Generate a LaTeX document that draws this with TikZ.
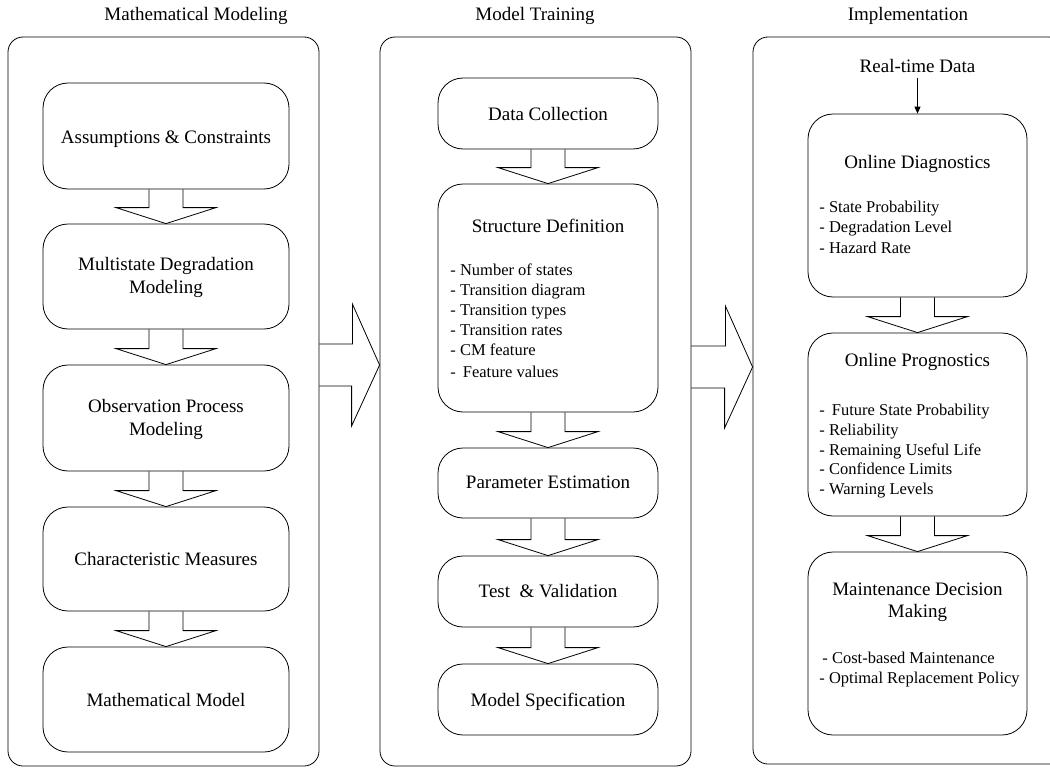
\documentclass[tikz,border=0pt]{standalone}
\usepackage{fontspec}
\setmainfont{Liberation Serif}
\usetikzlibrary{arrows.meta,calc}
\newcommand\blkarrow[2]{%
  \draw[blk] ($(#1.south)+(-17,0)$) -- ($(#2.north)+(-17,-16)$) -- ($(#2.north)+(-50,-16)$)
     -- (#2.north) -- ($(#2.north)+(50,-16)$) -- ($(#2.north)+(17,-16)$) -- ($(#1.south)+(17,0)$);}
\begin{document}
\begin{tikzpicture}[x=1pt,y=-1pt, line width=0.8pt,
  frame/.style={draw, rounded corners=15pt, inner sep=0pt},
  box/.style={draw, rounded corners=25pt, inner sep=0pt},
  ttl/.style={font=\fontsize{19}{23}\selectfont, anchor=base, inner sep=0pt},
  itm/.style={font=\fontsize{16.5}{20}\selectfont, anchor=base west, inner sep=0pt},
  blk/.style={draw, line join=miter}]

\useasboundingbox (0,0) rectangle (1050,768);
\clip (0,0) rectangle (1050,768);

% headers
\node[ttl] (h1) at (196,21) {Mathematical Modeling};
\node[ttl] (h2) at (535,21) {Model Training};
\node[ttl] (h3) at (908,21) {Implementation};

% frames
\node[frame, minimum width=311pt, minimum height=729pt] (f1) at (163.5,401.5) {};
\node[frame, minimum width=311pt, minimum height=729pt] (f2) at (535.5,401.5) {};
\node[frame, minimum width=311pt, minimum height=727pt] (f3) at (908.5,400.5) {};

% column 1
\node[box, minimum width=246pt, minimum height=106pt] (a1) at (166,136) {};
\node[box, minimum width=246pt, minimum height=105pt] (a2) at (166,276.5) {};
\node[box, minimum width=246pt, minimum height=106pt] (a3) at (166,418) {};
\node[box, minimum width=246pt, minimum height=104pt] (a4) at (166,559) {};
\node[box, minimum width=246pt, minimum height=105pt] (a5) at (166,699.5) {};
\node[ttl] (a1t) at (166,143) {Assumptions \& Constraints};
\node[ttl] (a2t) at (166,270) {Multistate Degradation};
\node[ttl] (a2u) at (166,293) {Modeling};
\node[ttl] (a3t) at (166,412) {Observation Process};
\node[ttl] (a3u) at (166,435) {Modeling};
\node[ttl] (a4t) at (166,565.5) {Characteristic Measures};
\node[ttl] (a5t) at (166,706) {Mathematical Model};
\blkarrow{a1}{a2}
\blkarrow{a2}{a3}
\blkarrow{a3}{a4}
\blkarrow{a4}{a5}

% column 2
\node[box, minimum width=220pt, minimum height=71pt] (c1) at (548,113.5) {};
\node[box, minimum width=220pt, minimum height=228pt] (c2) at (548,298) {};
\node[box, minimum width=220pt, minimum height=70pt] (c3) at (548,483) {};
\node[box, minimum width=220pt, minimum height=71pt] (c4) at (548,591.5) {};
\node[box, minimum width=220pt, minimum height=71pt] (c5) at (548,699.5) {};
\node[ttl] (c1t) at (548,120) {Data Collection};
\node[ttl] (c2t) at (548,232) {Structure Definition};
\node[itm] (c2a) at (450,275) {- Number of states};
\node[itm] (c2b) at (450,295) {- Transition diagram};
\node[itm] (c2c) at (450,315) {- Transition types};
\node[itm] (c2d) at (450,335) {- Transition rates};
\node[itm] (c2e) at (450,355) {- CM feature};
\node[itm] (c2f) at (450,377) {-\hspace{7pt}Feature values};
\node[ttl] (c3t) at (548,488) {Parameter Estimation};
\node[ttl] (c4t) at (548,597) {Test\ \ \& Validation};
\node[ttl] (c5t) at (548,706) {Model Specification};
\blkarrow{c1}{c2}
\blkarrow{c2}{c3}
\blkarrow{c3}{c4}
\blkarrow{c4}{c5}

% column 3
\node[box, minimum width=219pt, minimum height=183pt] (d1) at (917.5,205.5) {};
\node[box, minimum width=219pt, minimum height=183pt] (d2) at (917.5,424.5) {};
\node[box, minimum width=219pt, minimum height=183pt] (d3) at (917.5,643.5) {};
\node[ttl] (rt) at (917.5,73) {Real-time Data};
\draw[-{Triangle[length=7pt,width=6pt]}] ($(rt.south)+(0,4)$) -- (d1.north);
\node[ttl] (d1t) at (917.5,168) {Online Diagnostics};
\node[itm] (d1a) at (819,212) {- State Probability};
\node[itm] (d1b) at (819,232) {- Degradation Level};
\node[itm] (d1c) at (819,253) {- Hazard Rate};
\node[ttl] (d2t) at (917.5,366) {Online Prognostics};
\node[itm] (d2a) at (819,415) {-\hspace{7pt}Future State Probability};
\node[itm] (d2b) at (819,435) {- Reliability};
\node[itm] (d2c) at (819,455) {- Remaining Useful Life};
\node[itm] (d2d) at (819,474) {- Confidence Limits};
\node[itm] (d2e) at (819,494) {- Warning Levels};
\node[ttl] (d3t) at (917.5,595) {Maintenance Decision};
\node[ttl] (d3u) at (917.5,617) {Making};
\node[itm] (d3a) at (822,663) {- Cost-based Maintenance};
\node[itm] (d3b) at (819,683) {- Optimal Replacement Policy};
\blkarrow{d1}{d2}
\blkarrow{d2}{d3}

% big arrows between columns
\coordinate (t1) at (f2.west |- 0,365);
\draw[blk] (f1.east |- 0,344) -- ++(33,0) -- ++(0,-40) -- (t1) -- ($(t1)+(-28,61)$) -- ++(0,-40) -- (f1.east |- 0,386);
\coordinate (t2) at (f3.west |- 0,367);
\draw[blk] (f2.east |- 0,346) -- ++(34,0) -- ++(0,-40) -- (t2) -- ($(t2)+(-28,61)$) -- ++(0,-40) -- (f2.east |- 0,388);
\end{tikzpicture}
\end{document}
